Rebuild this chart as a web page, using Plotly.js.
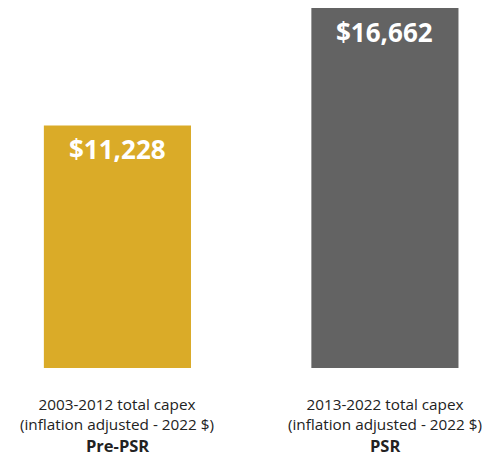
<!DOCTYPE html>
<html>
<head>
<meta charset="utf-8">
<script src="https://cdn.plot.ly/plotly-3.0.1.min.js"></script>
<style>html,body{margin:0;padding:0;background:#fff;}#chart{width:497px;height:458px;}</style>
</head>
<body>
<div id="chart"></div>
<script>
const categories = ["Pre-PSR", "PSR"];
const periodLabels = ["2003-2012 total capex", "2013-2022 total capex"];
const subLabel = "(inflation adjusted - 2022 $)";
const values = [11228, 16662];
const valueLabels = ["$11,228", "$16,662"];
const barColors = ["#DAAB28", "#636363"];

const xs = categories.map((c, i) => i);
const trace = {
  type: "bar",
  x: xs,
  y: values,
  marker: {color: barColors},
  width: 0.55,
  hoverinfo: "skip"
};

const FONT = "Open Sans, Noto Sans, sans-serif";
const annotations = [];
xs.forEach((x, i) => {
  annotations.push({
    x: x, y: values[i], xref: "x", yref: "y",
    text: "<b>" + valueLabels[i] + "</b>",
    showarrow: false, yanchor: "middle", yshift: -24,
    font: {family: FONT, size: 26, color: "#ffffff"}
  });
  annotations.push({
    x: x, y: 0, xref: "x", yref: "y",
    text: periodLabels[i] + "<br>" + subLabel,
    showarrow: false, yanchor: "middle", yshift: -46, borderpad: 0,
    font: {family: FONT, size: 15.3, color: "#222222"}
  });
  annotations.push({
    x: x, y: 0, xref: "x", yref: "y",
    text: "<b>" + categories[i] + "</b>",
    showarrow: false, yanchor: "middle", yshift: -77.5, borderpad: 0,
    font: {family: FONT, size: 16.5, color: "#222222"}
  });
});

const layout = {
  width: 497, height: 458,
  margin: {l: 0, r: 0, t: 8, b: 90},
  paper_bgcolor: "#ffffff", plot_bgcolor: "#ffffff",
  showlegend: false,
  xaxis: {range: [-0.439, 1.419], showticklabels: false, showgrid: false, zeroline: false, showline: false, ticks: ""},
  yaxis: {range: [0, 16662], showticklabels: false, showgrid: false, zeroline: false, showline: false, ticks: ""},
  annotations: annotations
};

Plotly.newPlot("chart", [trace], layout, {displayModeBar: false, staticPlot: true});
</script>
</body>
</html>
